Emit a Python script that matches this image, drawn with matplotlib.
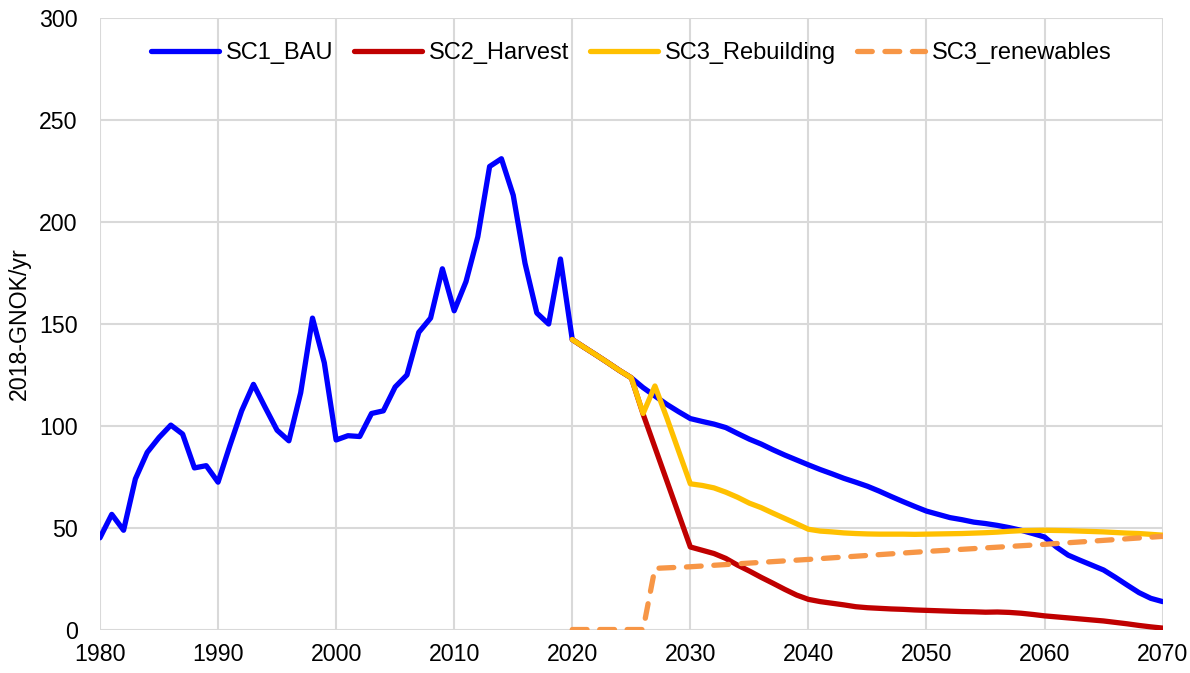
import matplotlib
matplotlib.use("Agg")
import matplotlib.pyplot as plt

plt.rcParams['font.family'] = ['Liberation Sans', 'DejaVu Sans']

# ---- data ----
bau_years = list(range(1980, 2071))
bau_values = [
    45.0, 56.5, 48.7, 73.9, 86.9, 94.2, 100.3, 95.9, 79.3, 80.4,
    72.3, 90.2, 107.3, 120.3, 108.9, 97.8, 92.6, 116.2, 152.8, 130.9,
    93.0, 95.1, 94.7, 106.0, 107.3, 119.0, 124.9, 145.8, 152.8, 177.0,
    156.4, 170.7, 192.7, 227.2, 231.0, 213.1, 179.7, 155.3, 149.9, 181.8,
    142.3, 138.5, 134.8, 131.0, 127.1, 123.5, 118.7, 114.6, 110.5, 106.9,
    103.5, 102.1, 100.8, 99.1, 96.2, 93.4, 91.0, 88.2, 85.6, 83.2,
    80.8, 78.5, 76.4, 74.2, 72.3, 70.3, 67.9, 65.3, 62.8, 60.4,
    58.1, 56.5, 54.9, 53.9, 52.7, 52.0, 51.1, 50.0, 48.7, 47.1,
    45.4, 40.5, 36.5, 34.0, 31.6, 29.2, 25.6, 21.8, 18.1, 15.3,
    13.7,
]

harvest_years = list(range(2020, 2071))
harvest_values = [
    142.3, 138.5, 134.8, 131.0, 127.1, 123.5, 105.7, 89.4, 73.1, 56.8,
    40.5, 38.9, 37.3, 34.9, 31.6, 28.7, 25.6, 22.7, 19.7, 16.9,
    14.8, 13.7, 12.9, 12.1, 11.2, 10.7, 10.4, 10.1, 9.9, 9.6,
    9.4, 9.2, 9.0, 8.8, 8.7, 8.5, 8.6, 8.4, 8.0, 7.4,
    6.7, 6.2, 5.7, 5.2, 4.7, 4.2, 3.5, 2.8, 2.0, 1.3,
    0.7,
]

rebuild_years = list(range(2020, 2071))
rebuild_values = [
    142.3, 138.5, 134.8, 131.0, 127.1, 123.5, 106.0, 119.5, 104.0, 87.7,
    71.5, 70.7, 69.5, 67.4, 64.9, 62.0, 59.8, 57.1, 54.5, 51.9,
    49.2, 48.3, 47.9, 47.4, 47.1, 46.9, 46.8, 46.8, 46.8, 46.7,
    46.8, 46.9, 47.0, 47.1, 47.3, 47.5, 47.8, 48.2, 48.5, 48.6,
    48.7, 48.6, 48.5, 48.3, 48.1, 47.9, 47.6, 47.3, 47.1, 46.7,
    46.3,
]

renew_years = [2020, 2026, 2027, 2030, 2040, 2050, 2060, 2070]
renew_values = [0.0, 0.0, 30.0, 30.8, 34.4, 38.3, 41.8, 45.7]

series_labels = ["SC1_BAU", "SC2_Harvest", "SC3_Rebuilding", "SC3_renewables"]
x_ticks = list(range(1980, 2071, 10))
y_ticks = list(range(0, 301, 50))
y_label = "2018-GNOK/yr"

# ---- figure ----
fig = plt.figure(figsize=(11.9, 6.73), dpi=100)
ax = fig.add_axes([0.084, 0.0646, 0.893, 0.9085])

lw = 3.8
ax.plot(bau_years, bau_values, color="#0000FF", lw=lw, label=series_labels[0],
        solid_joinstyle="round", solid_capstyle="round", zorder=3)
ax.plot(harvest_years, harvest_values, color="#C00000", lw=lw, label=series_labels[1],
        solid_joinstyle="round", solid_capstyle="round", zorder=4)
ax.plot(rebuild_years, rebuild_values, color="#FFC000", lw=lw, label=series_labels[2],
        solid_joinstyle="round", solid_capstyle="round", zorder=5)
ax.plot(renew_years, renew_values, color="#F79646", lw=lw, label=series_labels[3],
        dashes=(2.8, 2.4), dash_capstyle="round", dash_joinstyle="round", zorder=6)

ax.set_xlim(1980, 2070)
ax.set_ylim(0, 300)
ax.set_xticks(x_ticks)
ax.set_yticks(y_ticks)
ax.tick_params(length=0, labelsize=16.7)
ax.tick_params(axis="x", pad=10)
ax.tick_params(axis="y", pad=16)
ax.grid(True, color="#D9D9D9", lw=1.5)
ax.set_axisbelow(True)
for s in ax.spines.values():
    s.set_visible(False)
ax.set_ylabel(y_label, fontsize=16.7, labelpad=6)

leg = ax.legend(loc="center", bbox_to_anchor=(0.5, 0.9427), ncol=4, frameon=False,
                fontsize=17, handlelength=2.9, columnspacing=0.85, handletextpad=0.3)

fig.savefig("out.png", dpi=100)
